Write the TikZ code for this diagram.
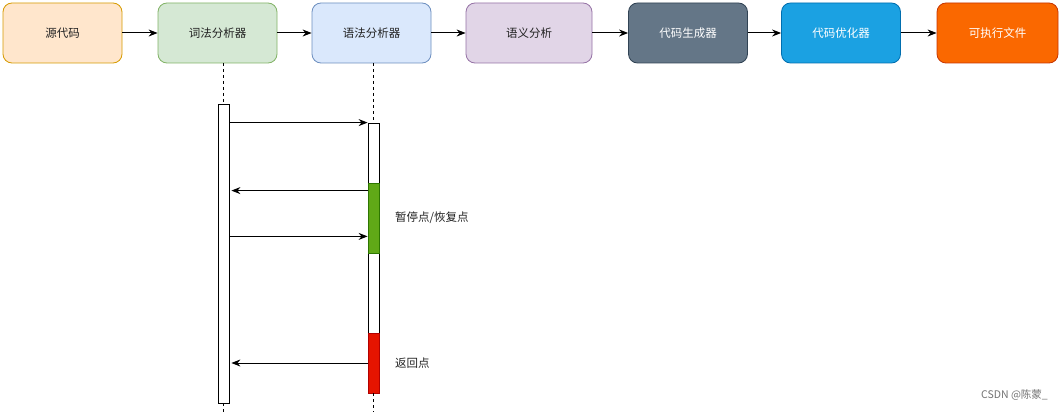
\documentclass[tikz,border=0pt]{standalone}
\usepackage{fontspec}
\setmainfont{Noto Sans CJK SC}
\usetikzlibrary{arrows.meta}
\definecolor{c1f}{HTML}{FFE6CC}\definecolor{c1d}{HTML}{D79B00}
\definecolor{c2f}{HTML}{D5E8D4}\definecolor{c2d}{HTML}{82B366}
\definecolor{c3f}{HTML}{DAE8FC}\definecolor{c3d}{HTML}{6C8EBF}
\definecolor{c4f}{HTML}{E1D5E7}\definecolor{c4d}{HTML}{9673A6}
\definecolor{c5f}{HTML}{647687}\definecolor{c5d}{HTML}{314354}
\definecolor{c6f}{HTML}{1BA1E2}\definecolor{c6d}{HTML}{006EAF}
\definecolor{c7f}{HTML}{FA6800}\definecolor{c7d}{HTML}{C73500}
\definecolor{gf}{HTML}{60A917}\definecolor{gd}{HTML}{2D7600}
\definecolor{rf}{HTML}{E51400}\definecolor{rd}{HTML}{B20000}
\definecolor{txt}{HTML}{222222}
\tikzset{
  stage/.style={draw, rounded corners=9pt, minimum width=119pt, minimum height=60pt,
    inner sep=0pt, line width=0.8pt, font=\fontsize{11.5}{14}\selectfont, text=txt},
  arr/.style={-{Stealth[length=9pt,width=7pt]}, line width=1pt, black},
  life/.style={dashed, dash pattern=on 3pt off 3pt, line width=0.8pt, black},
  act/.style={draw, line width=0.8pt, fill=white, minimum width=11pt, inner sep=0pt},
  lbl/.style={anchor=west, font=\fontsize{11.5}{14}\selectfont, text=txt, inner sep=0pt}
}
\begin{document}
\begin{tikzpicture}[x=1pt,y=-1pt]
\useasboundingbox[fill=white] (0,0) rectangle (1061,412);
% stages
\node[stage, fill=c1f, draw=c1d] (src) at (62.5,33) {源代码};
\node[stage, fill=c2f, draw=c2d] (lex) at (217.5,33) {词法分析器};
\node[stage, fill=c3f, draw=c3d] (par) at (371.5,33) {语法分析器};
\node[stage, fill=c4f, draw=c4d, minimum width=126pt] (sem) at (529,33) {语义分析};
\node[stage, fill=c5f, draw=c5d, text=white] (gen) at (688,33) {代码生成器};
\node[stage, fill=c6f, draw=c6d, text=white] (opt) at (841,33) {代码优化器};
\node[stage, fill=c7f, draw=c7d, text=white, minimum width=121pt] (exe) at (997.5,33) {可执行文件};
\draw[arr] (src) -- (lex);
\draw[arr] (lex) -- (par);
\draw[arr] (par) -- (sem);
\draw[arr] (sem) -- (gen);
\draw[arr] (gen) -- (opt);
\draw[arr] (opt) -- (exe);
% activation boxes
\node[act, minimum height=299pt] (lexAct) at (223.5,253.5) {};
\node[act, minimum height=270pt] (parAct) at (373.5,258) {};
\node[act, fill=gf, draw=gd, minimum height=70pt] (green) at (373.5,218) {};
\node[act, fill=rf, draw=rd, minimum height=60pt] (red) at (373.5,363) {};
% lifelines
\coordinate (lexTop) at (223.5,63);
\coordinate (lexEnd) at (223.5,412);
\coordinate (parTop) at (373.5,63);
\coordinate (parEnd) at (373.5,412);
\draw[life] (lexTop) -- (lexAct.north);
\draw[life] (lexAct.south) -- (lexEnd);
\draw[life] (parTop) -- (parAct.north);
\draw[life] (parAct.south) -- (parEnd);
% messages
\draw[arr] (lexAct.east |- parAct.north west) -- (parAct.north west);
\draw[arr] ([yshift=-8pt]green.north west) -- ([yshift=-8pt,xshift=2pt]lexAct.east |- green.north west);
\draw[arr] ([yshift=17pt]lexAct.east |- green.south west) -- ([yshift=17pt]green.south west);
\draw[arr] (red.west) -- ([xshift=2pt]lexAct.east |- red.west);
% labels
\node[lbl] (pause) at (395,218) {暂停点/恢复点};
\node[lbl] (ret) at (395,363) {返回点};
\node[anchor=east, inner sep=0pt, font=\fontsize{10.5}{12}\selectfont, text=black!55] (wm) at (1048,395) {CSDN @陈蒙\_};
\end{tikzpicture}
\end{document}
